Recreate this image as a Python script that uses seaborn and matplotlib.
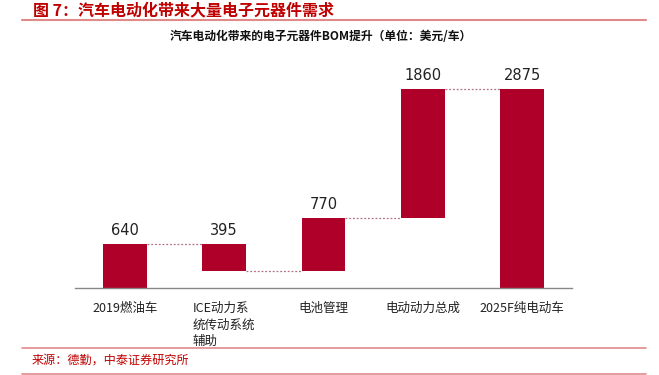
import matplotlib
matplotlib.use("Agg")
import matplotlib.pyplot as plt
import seaborn as sns
import pandas as pd
from matplotlib.lines import Line2D

categories = ["2019燃油车", "ICE动力系\n统传动系统\n辅助", "电池管理", "电动动力总成", "2025F纯电动车"]
values = [640, -395, 770, 1860, 2875]
is_total = [True, False, False, False, True]

# compute waterfall bottoms / heights
bottoms, heights, tops = [], [], []
running = 0
for v, tot in zip(values, is_total):
    if tot:
        b, h = 0, v
        running = v
    else:
        start = running
        running = running + v
        b, h = min(start, running), abs(v)
    bottoms.append(b)
    heights.append(h)
    tops.append(b + h)

df = pd.DataFrame({"cat": categories, "h": heights})

sns.set_theme(style="white")
plt.rcParams['font.family'] = ['Noto Sans CJK SC', 'DejaVu Sans']

fig = plt.figure(figsize=(6.59, 3.75), dpi=100)
W, H = 659, 375
ax_l, ax_r = 75 / W, 572 / W
ax_b = (H - 288) / H
ax_t = (H - 60) / H
ax = fig.add_axes([ax_l, ax_b, ax_r - ax_l, ax_t - ax_b])

bar_color = "#AF0029"
sns.barplot(data=df, x="cat", y="h", bottom=bottoms, color=bar_color,
            saturation=1, width=0.44, ax=ax, edgecolor="none")

ymax = 2875 * (288 - 60) / (288 - 89)
ax.set_ylim(0, ymax)
ax.set_xlim(-0.5, len(categories) - 0.5)

# value labels
for i, v in enumerate(values):
    ax.text(i, tops[i] + ymax * 0.025, f"{abs(v)}", ha="center", va="bottom",
            fontsize=10.5, color="#222222", family=["Liberation Sans Narrow", "DejaVu Sans"])

# connectors
half = 0.22
levels = [640, 245, 1015, 2875]
for i, lv in enumerate(levels):
    ax.plot([i + half, i + 1 - half], [lv, lv], linestyle=(0, (1.5, 1.5)),
            color="#B07080", lw=0.9)

# axes styling
for s in ["top", "right", "left"]:
    ax.spines[s].set_visible(False)
ax.spines["bottom"].set_color("#888888")
ax.spines["bottom"].set_linewidth(1.0)
ax.set_yticks([])
ax.set_xlabel("")
ax.set_ylabel("")
ax.set_xticks(range(len(categories)))
ax.set_xticklabels(categories, fontsize=9, color="#222222", multialignment="left",
                   linespacing=1.35)
ax.tick_params(axis="x", which="major", length=0, pad=10)
ax.set_xticks([x - 0.5 for x in range(len(categories) + 1)], minor=True)
ax.tick_params(axis="x", which="minor", length=4, color="#888888", width=1, direction="out")

# titles
fig.text(33 / W, 1 - 10 / H, "图 7：汽车电动化带来大量电子元器件需求", color="#C00000",
         fontsize=11.5, fontweight="bold", style="italic", va="center", ha="left")
fig.add_artist(Line2D([22 / W, 646 / W], [1 - 20 / H, 1 - 20 / H], color="#E08A8A", lw=1.5))
fig.text(321 / W, 1 - 37 / H, "汽车电动化带来的电子元器件BOM提升（单位：美元/车）", color="#111111",
         fontsize=8.5, fontweight="bold", va="center", ha="center")

fig.add_artist(Line2D([22 / W, 646 / W], [1 - 348 / H, 1 - 348 / H], color="#E08A8A", lw=1.2))
fig.text(32 / W, 1 - 360 / H, "来源：德勤，中泰证券研究所", color="#C00000",
         fontsize=8.7, va="center", ha="left")
fig.add_artist(Line2D([22 / W, 646 / W], [1 - 373.5 / H, 1 - 373.5 / H], color="#E08A8A", lw=1.2))

fig.savefig("out.png", dpi=100)
